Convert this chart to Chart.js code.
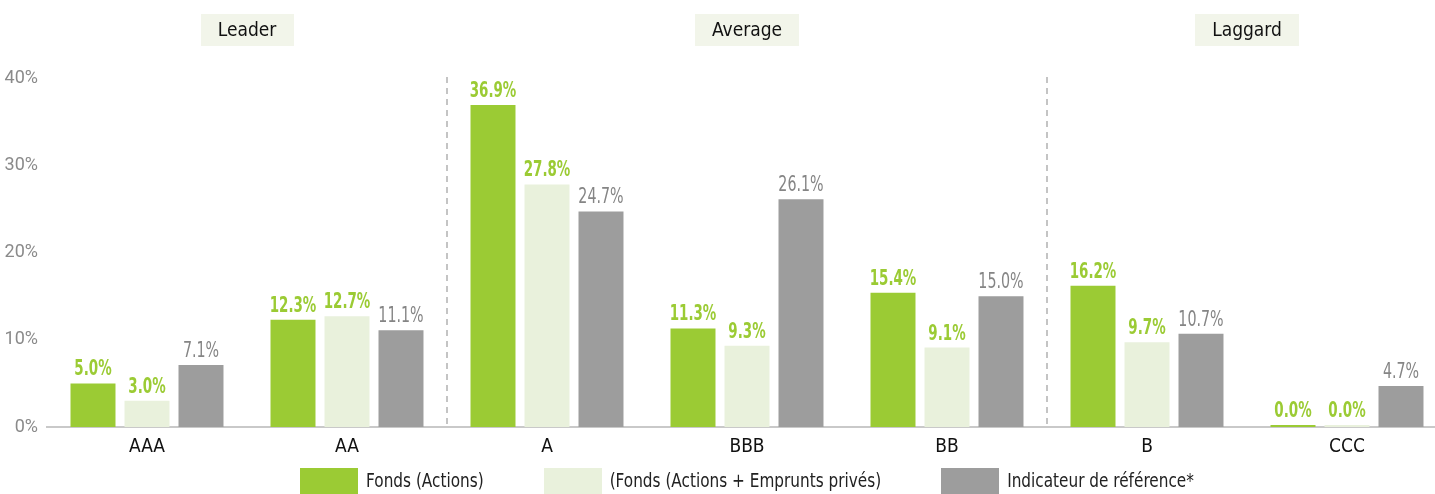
<!DOCTYPE html>
<html>
<head>
<meta charset="utf-8">
<script src="https://cdn.jsdelivr.net/npm/chart.js@4.4.1/dist/chart.umd.min.js"></script>
<style>
  html, body { margin: 0; padding: 0; background: #fff; overflow: hidden; }
  #wrap { width: 1435px; height: 494px; overflow: hidden; }
</style>
</head>
<body>
<div id="wrap"><canvas id="chart" width="1447" height="494"></canvas></div>
<script>
const categories = ['AAA', 'AA', 'A', 'BBB', 'BB', 'B', 'CCC']
const fondsActions = [5.0, 12.3, 36.9, 11.3, 15.4, 16.2, 0.0]
const fondsActionsEmprunts = [3.0, 12.7, 27.8, 9.3, 9.1, 9.7, 0.0]
const indicateur = [7.1, 11.1, 24.7, 26.1, 15.0, 10.7, 4.7]
const seriesNames = ['Fonds (Actions)', '(Fonds (Actions + Emprunts privés)', 'Indicateur de référence*']
const yTicks = [0, 10, 20, 30, 40]
// groups of ratings: first and last category index
const groups = [
  { name: 'Leader', from: 0, to: 1 },
  { name: 'Average', from: 2, to: 4 },
  { name: 'Laggard', from: 5, to: 6 }
]

const FONT = "'Liberation Sans Narrow', 'DejaVu Sans Condensed', 'Roboto', sans-serif"
const GREEN = '#9bcb34'
const LIGHT = '#e9f1dc'
const GREY = '#9d9d9d'

// the original uses a condensed face, so squeeze text horizontally
function squeezedText(ctx, text, x, y, sx) {
  ctx.save()
  ctx.translate(x, y)
  ctx.scale(sx, 1)
  ctx.fillText(text, 0, 0)
  ctx.restore()
}

// value labels above bars
const valueLabels = {
  id: 'valueLabels',
  afterDatasetsDraw(chart) {
    const ctx = chart.ctx
    ctx.save()
    ctx.textAlign = 'center'
    ctx.textBaseline = 'alphabetic'
    chart.data.datasets.forEach((ds, i) => {
      const meta = chart.getDatasetMeta(i)
      const bold = i < 2
      ctx.font = (bold ? 'bold ' : '') + '22px ' + FONT
      ctx.fillStyle = bold ? GREEN : '#858585'
      meta.data.forEach((bar, j) => {
        squeezedText(ctx, ds.data[j].toFixed(1) + '%', bar.x, bar.y - 8, bold ? 0.68 : 0.72)
      })
    })
    ctx.restore()
  }
}

// group headers and dashed separators
const groupMarks = {
  id: 'groupMarks',
  beforeDatasetsDraw(chart) {
    const ctx = chart.ctx
    const x = chart.scales.x
    const area = chart.chartArea
    ctx.save()
    ctx.strokeStyle = '#c4c4c4'
    ctx.lineWidth = 2
    ctx.setLineDash([6, 5])
    for (let g = 0; g < groups.length - 1; g++) {
      const sx = Math.round((x.getPixelForValue(groups[g].to) + x.getPixelForValue(groups[g + 1].from)) / 2)
      ctx.beginPath()
      ctx.moveTo(sx, area.top - 1)
      ctx.lineTo(sx, area.bottom)
      ctx.stroke()
    }
    ctx.restore()
  },
  afterDraw(chart) {
    const ctx = chart.ctx
    const x = chart.scales.x
    ctx.save()
    ctx.font = '19px ' + FONT
    ctx.textAlign = 'center'
    ctx.textBaseline = 'middle'
    groups.forEach(g => {
      const cx = (x.getPixelForValue(g.from) + x.getPixelForValue(g.to)) / 2
      const w = ctx.measureText(g.name).width + 34
      ctx.fillStyle = '#f2f5ea'
      ctx.fillRect(Math.round(cx - w / 2), 14, Math.round(w), 32)
      ctx.fillStyle = '#111'
      ctx.fillText(g.name, cx, 31)
    })
    ctx.restore()
  }
}

// legend drawn below the axis, centred on the plot area
const bottomLegend = {
  id: 'bottomLegend',
  afterDraw(chart) {
    const ctx = chart.ctx
    const area = chart.chartArea
    const boxW = 58, boxH = 26, gap = 8, spacing = 60, top = 468, sx = 0.85
    ctx.save()
    ctx.font = '20px ' + FONT
    const items = chart.data.datasets.map(ds => ({ label: ds.label, color: ds.backgroundColor, w: ctx.measureText(ds.label).width * sx }))
    const total = items.reduce((s, it) => s + boxW + gap + it.w, 0) + spacing * (items.length - 1)
    let cx = (area.left + area.right) / 2 - total / 2
    ctx.textBaseline = 'middle'
    ctx.textAlign = 'left'
    items.forEach(it => {
      ctx.fillStyle = it.color
      ctx.fillRect(Math.round(cx), top, boxW, boxH)
      ctx.fillStyle = '#222'
      squeezedText(ctx, it.label, cx + boxW + gap, top + boxH / 2 + 1, sx)
      cx += boxW + gap + it.w + spacing
    })
    ctx.restore()
  }
}

new Chart(document.getElementById('chart'), {
  type: 'bar',
  data: {
    labels: categories,
    datasets: [
      { label: seriesNames[0], data: fondsActions, backgroundColor: GREEN, minBarLength: 2 },
      { label: seriesNames[1], data: fondsActionsEmprunts, backgroundColor: LIGHT, minBarLength: 2 },
      { label: seriesNames[2], data: indicateur, backgroundColor: GREY, minBarLength: 2 }
    ]
  },
  options: {
    responsive: false,
    animation: false,
    devicePixelRatio: 1,
    categoryPercentage: 0.81,
    barPercentage: 0.833,
    layout: { padding: { top: 78, bottom: 0, left: 0, right: 0 } },
    plugins: {
      legend: { display: false },
      tooltip: { enabled: false }
    },
    scales: {
      x: {
        grid: { display: false, drawTicks: false },
        border: { display: true, color: '#c9c9c9', width: 2 },
        ticks: { color: '#111', font: { family: FONT, size: 19 }, padding: 9 },
        afterFit(scale) { scale.height = 67 }
      },
      y: {
        min: 0,
        max: 40,
        afterBuildTicks(scale) { scale.ticks = yTicks.map(v => ({ value: v })) },
        grid: { display: false, drawTicks: false },
        border: { display: false },
        ticks: {
          color: '#8a8a8a',
          font: { family: 'Roboto', size: 18 },
          padding: 9,
          callback: v => v + '%'
        },
        afterFit(scale) { scale.width = 47 }
      }
    }
  },
  plugins: [valueLabels, groupMarks, bottomLegend]
})
</script>
</body>
</html>
